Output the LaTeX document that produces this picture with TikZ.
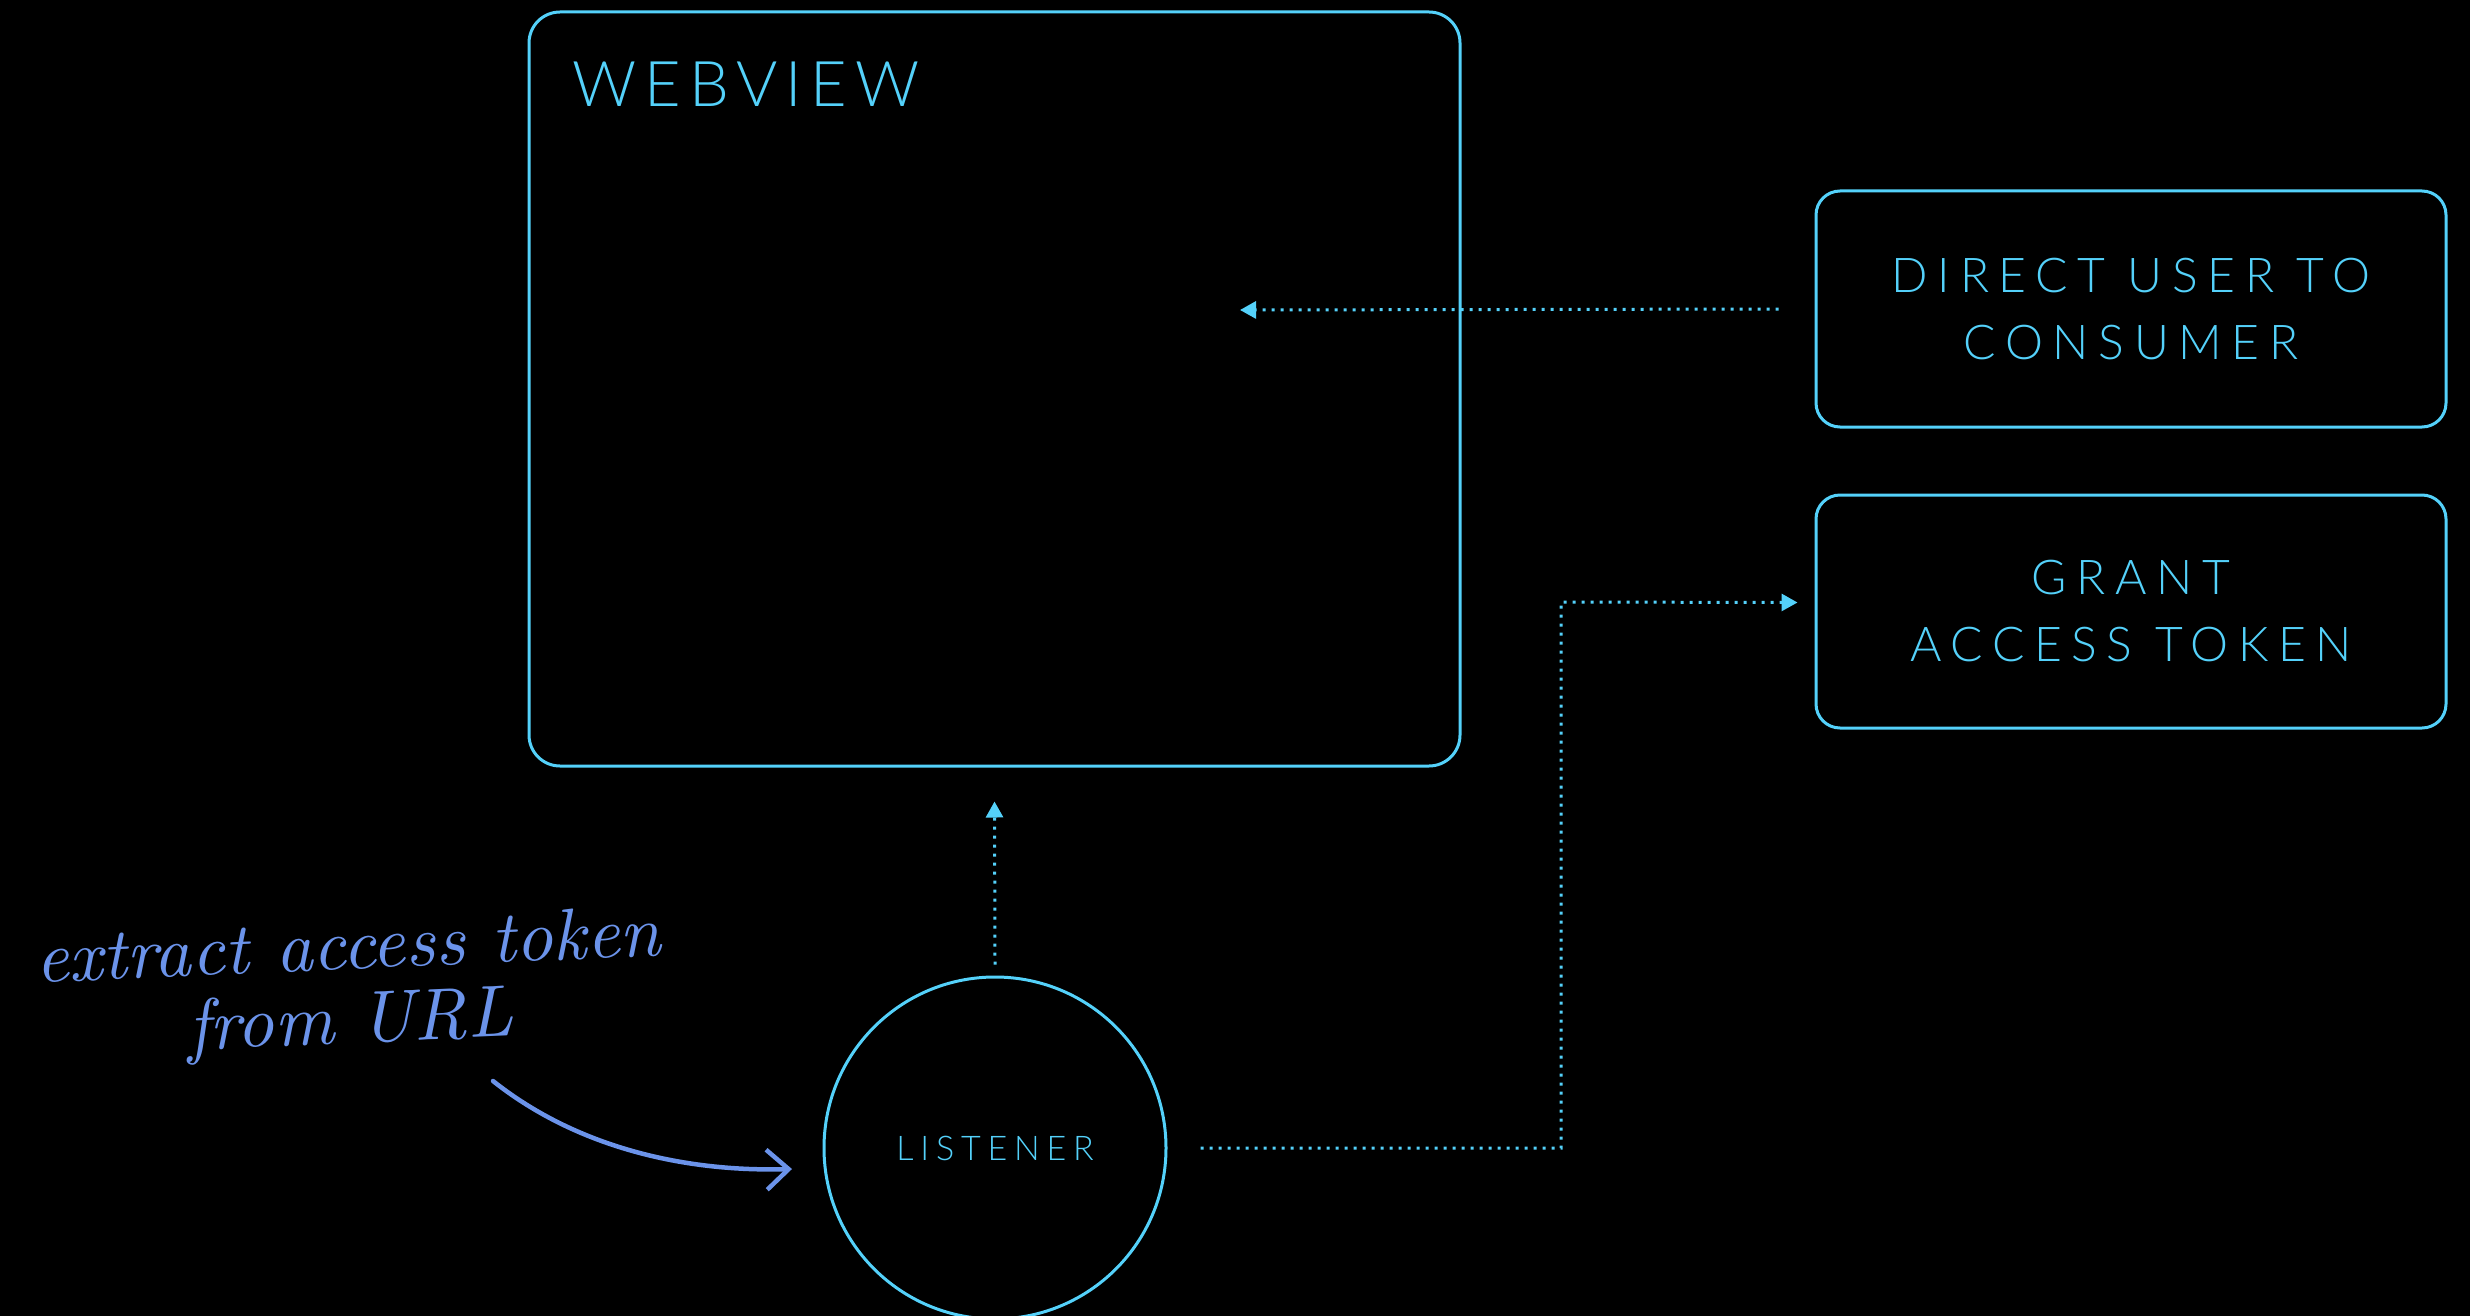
\documentclass[tikz,border=0pt]{standalone}
\usepackage{fontspec}
\usetikzlibrary{arrows.meta}
\setmainfont{Lato}
\newfontfamily\capsfont[LetterSpace=20]{Lato Light}
\newfontfamily\titlefont[LetterSpace=13]{Lato Light}
\newfontfamily\hand{lmroman10-italic.otf}
\definecolor{cy}{HTML}{54D1FA}
\definecolor{hb}{HTML}{6B93EA}
\begin{document}
\begin{tikzpicture}[x=1pt,y=-1pt,
  box/.style={draw=cy, line width=3pt, rounded corners=24pt, inner sep=0pt},
  lbl/.style={text=cy, font=\capsfont\fontsize{48}{67}\selectfont, align=center},
  dotline/.style={draw=cy, line width=3pt, dash pattern=on 3pt off 6pt},
  tip/.style={-{Triangle[length=16pt,width=17pt]}},
  handtext/.style={text=hb, font=\hand\fontsize{73}{73}\selectfont, rotate=2.5, inner sep=0pt}]
\fill[black] (0,0) rectangle (2470,1316);
\useasboundingbox (0,0) rectangle (2470,1316);

\node[box, rounded corners=31pt, minimum width=931pt, minimum height=754pt] (webview) at (994.5,389) {};
\node[anchor=base west, inner sep=0pt, text=cy, font=\titlefont\fontsize{63}{70}\selectfont] (wvtitle) at (572,107) {WEBVIEW};

\node[box, lbl, minimum width=630pt, minimum height=236pt] (direct) at (2131,309) {DIRECT USER TO\\CONSUMER};
\node[box, lbl, minimum width=630pt, minimum height=233pt] (grant) at (2131,611.5) {GRANT\\ACCESS TOKEN};

\node[circle, draw=cy, line width=3pt, minimum size=342pt, inner sep=0pt, text=cy, font=\capsfont\fontsize{34}{40}\selectfont] (listener) at (995,1148) {LISTENER};

\node[handtext, anchor=base] (note1) at (349,969) {extract access token};
\node[handtext, anchor=base] (note2) at (351,1043) {from URL};

\coordinate (a1s) at ([xshift=-36pt]direct.west);
\coordinate (a1e) at (1240,310);
\draw[dotline, tip] (a1s) -- (a1e);

\draw[dotline, tip] ([yshift=11pt]listener.north) -- ([yshift=-34pt]webview.south);

\coordinate (bend) at (1561,602);
\draw[dotline, tip] ([xshift=33pt]listener.east) -| (bend) -- ([xshift=-17pt,yshift=9pt]grant.west);

\coordinate (hs) at (493,1081);
\coordinate (he) at (792,1169);
\draw[hb, line width=4.5pt, line cap=round, -{Straight Barb[length=22pt,width=40pt,line width=4.5pt]}] (hs) .. controls (580,1150) and (690,1172) .. (he);
\end{tikzpicture}
\end{document}
